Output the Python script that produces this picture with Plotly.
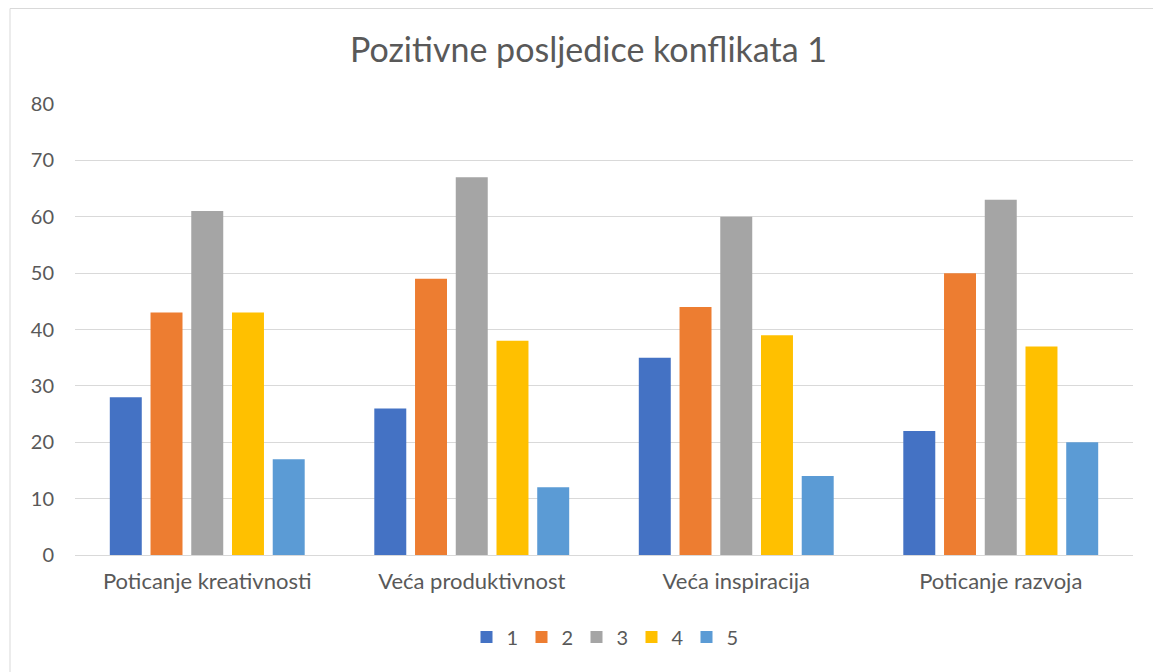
import plotly.graph_objects as go

categories = ["Poticanje kreativnosti", "Veća produktivnost", "Veća inspiracija", "Poticanje razvoja"]
series_names = ["1", "2", "3", "4", "5"]
values_1 = [28, 26, 35, 22]
values_2 = [43, 49, 44, 50]
values_3 = [61, 67, 60, 63]
values_4 = [43, 38, 39, 37]
values_5 = [17, 12, 14, 20]
colors = ["#4472C4", "#ED7D31", "#A5A5A5", "#FFC000", "#5B9BD5"]

all_values = [values_1, values_2, values_3, values_4, values_5]

fig = go.Figure()
for name, vals, col in zip(series_names, all_values, colors):
    fig.add_trace(go.Bar(x=categories, y=vals, name=name, marker=dict(color=col, line=dict(width=0))))

font_family = "Lato, 'Open Sans', sans-serif"
# page body has an 8px margin, so positions are shifted up/left by 8
W, H = 1161, 672
ml, mr, mt, mb = 67, 36, 96, 125
pw = W - ml - mr
ph = H - mt - mb

fig.update_layout(
    width=W, height=H,
    margin=dict(l=ml, r=mr, t=mt, b=mb),
    plot_bgcolor="white", paper_bgcolor="white",
    barmode="group", bargap=0.23, bargroupgap=0.215,
    font=dict(family=font_family, color="#595959", size=20),
    title=dict(text="Pozitivne posljedice konflikata 1", x=0.5, xanchor="center",
               y=1 - 42 / H, yanchor="middle", font=dict(size=34, color="#595959")),
    legend=dict(orientation="h", x=0.5, xanchor="center", y=-0.182, yanchor="middle",
                font=dict(size=20), itemwidth=30, traceorder="normal",
                entrywidth=10, entrywidthmode="pixels"),
    yaxis=dict(range=[0, 80], dtick=10, showgrid=True, gridcolor="#D9D9D9", gridwidth=1,
               zeroline=True, zerolinecolor="#D9D9D9", zerolinewidth=1,
               ticks="", showline=False, ticklabelstandoff=20),
    xaxis=dict(showgrid=False, showline=False, ticks="", ticklabelstandoff=11,
               tickfont=dict(size=22)),
    shapes=[
        dict(type="rect", xref="paper", yref="paper",
             x0=(2 - ml) / pw, x1=(W + 20 - ml) / pw,
             y0=-(H + 20 - mt - ph) / ph, y1=1 + (mt - 0.5) / ph,
             line=dict(color="#D9D9D9", width=1), layer="below"),
    ],
)

fig.write_html("out.html")
